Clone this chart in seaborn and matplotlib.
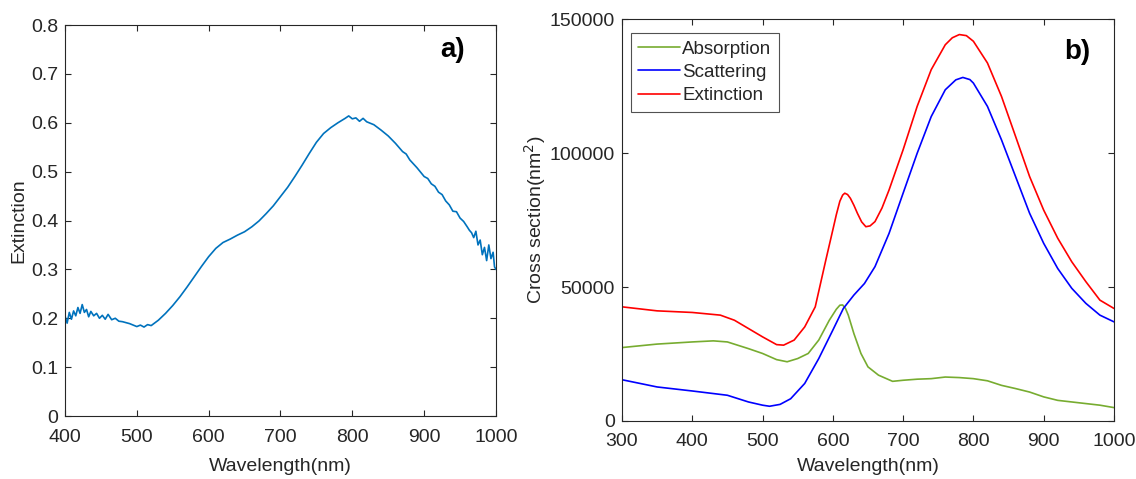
import numpy as np
import pandas as pd
import matplotlib
matplotlib.use("Agg")
import matplotlib.pyplot as plt
import seaborn as sns

# ---- Panel a) measured extinction ----
wl_a = [400, 403, 406, 409, 412, 415, 418, 421, 424, 427, 430, 433, 436, 440, 444, 448, 452, 456, 460, 465,
        470, 475, 480, 490, 500, 505, 510, 515, 520, 530, 540, 550, 560, 570, 580, 590, 600, 610, 620, 630,
        640, 650, 660, 670, 680, 690, 700, 710, 720, 730, 740, 750, 760, 770, 780, 790, 795, 800, 805, 810,
        815, 820, 830, 840, 850, 860, 870, 875, 880, 890, 900, 905, 910, 915, 920, 925, 930, 935, 940, 945,
        950, 955, 960, 963, 966, 969, 972, 975, 978, 981, 984, 987, 990, 993, 996, 998, 1000]
ext_a = [0.205, 0.190, 0.212, 0.198, 0.215, 0.205, 0.222, 0.210, 0.228, 0.212, 0.218, 0.203, 0.214, 0.205,
         0.210, 0.200, 0.206, 0.198, 0.208, 0.197, 0.200, 0.194, 0.193, 0.189, 0.183, 0.186, 0.182, 0.187,
         0.185, 0.196, 0.210, 0.226, 0.244, 0.264, 0.285, 0.306, 0.326, 0.343, 0.355, 0.362, 0.370, 0.377,
         0.387, 0.399, 0.414, 0.430, 0.449, 0.468, 0.490, 0.513, 0.537, 0.560, 0.578, 0.590, 0.600, 0.609,
         0.614, 0.608, 0.610, 0.603, 0.609, 0.602, 0.596, 0.585, 0.573, 0.558, 0.541, 0.536, 0.524, 0.508,
         0.490, 0.486, 0.475, 0.470, 0.458, 0.453, 0.440, 0.432, 0.419, 0.418, 0.405, 0.398, 0.387, 0.380,
         0.375, 0.365, 0.378, 0.350, 0.360, 0.330, 0.345, 0.318, 0.350, 0.322, 0.335, 0.305, 0.300]

# ---- Panel b) simulated cross sections ----
wl_ext = [300, 350, 400, 440, 460, 480, 500, 520, 530, 545, 560, 575, 590, 600, 605, 610, 614, 617, 621, 625,
          630, 635, 641, 647, 653, 660, 670, 680, 700, 720, 740, 760, 770, 780, 790, 800, 820, 840, 860, 880,
          900, 920, 940, 960, 980, 1000]
extinction = [42600, 41100, 40500, 39500, 37600, 34500, 31400, 28500, 28300, 30200, 35100, 42600, 60000, 71300,
              77000, 82000, 84300, 85000, 84500, 83100, 80500, 77500, 74300, 72500, 72800, 74400, 79500, 86200,
              101200, 117400, 131100, 140400, 143000, 144200, 143800, 141700, 133600, 121100, 106200, 91200,
              78700, 68200, 59400, 52000, 45100, 42000]

wl_sca = [300, 350, 400, 450, 480, 500, 510, 525, 540, 560, 580, 600, 615, 630, 645, 660, 680, 700, 720, 740,
          760, 775, 785, 795, 800, 820, 840, 860, 880, 900, 920, 940, 960, 980, 1000]
scattering = [15400, 12700, 11200, 9600, 7100, 5900, 5500, 6200, 8300, 14000, 23300, 33900, 42000, 47000, 51300,
              57600, 70000, 85000, 99900, 113600, 123600, 127300, 128200, 127400, 126100, 117400, 104900, 91200,
              77500, 66300, 56900, 49500, 43900, 39500, 37000]

wl_abs = [300, 350, 400, 430, 450, 480, 500, 520, 535, 550, 565, 580, 595, 605, 610, 614, 618, 622, 630, 640,
          650, 665, 685, 700, 720, 740, 760, 780, 800, 820, 840, 860, 880, 900, 920, 940, 960, 980, 1000]
absorption = [27400, 28700, 29500, 29900, 29500, 27000, 25200, 22900, 22100, 23300, 25200, 30200, 37600, 41700,
              43200, 43300, 42000, 39500, 32600, 25200, 20200, 17100, 14800, 15200, 15600, 15800, 16400, 16200,
              15800, 15000, 13300, 12100, 10800, 9000, 7700, 7100, 6500, 5900, 5000]

sns.set_style("ticks")
plt.rcParams['font.family'] = ['Liberation Sans', 'DejaVu Sans']
plt.rcParams['xtick.direction'] = 'in'
plt.rcParams['ytick.direction'] = 'in'
txt = '#262626'
edge = '#262626'
fs = 14

fig = plt.figure(figsize=(11.36, 4.79), dpi=100)
ax1 = fig.add_axes([0.0572, 0.1315, 0.3794, 0.8163])
ax2 = fig.add_axes([0.5475, 0.1211, 0.4331, 0.8392])

df_a = pd.DataFrame({"wl": wl_a, "ext": ext_a})
sns.lineplot(data=df_a, x="wl", y="ext", ax=ax1, color="#0072BD", linewidth=1.2)
ax1.set_xlim(400, 1000)
ax1.set_ylim(0, 0.8)
ax1.set_xticks(np.arange(400, 1001, 100))
ax1.set_yticks(np.arange(0, 0.81, 0.1))
ax1.set_yticklabels(["0", "0.1", "0.2", "0.3", "0.4", "0.5", "0.6", "0.7", "0.8"])
ax1.set_xlabel("Wavelength(nm)", fontsize=fs, color=txt)
ax1.set_ylabel("Extinction", fontsize=fs, color=txt)
ax1.xaxis.set_label_coords(0.5, -0.108)
ax1.yaxis.set_label_coords(-0.087, 0.5)
ax1.text(0.90, 0.936, "a)", transform=ax1.transAxes, fontsize=20, fontweight='bold', ha='center', va='center',
         color='black')

df_b = pd.concat([
    pd.DataFrame({"wl": wl_abs, "val": absorption, "kind": "Absorption"}),
    pd.DataFrame({"wl": wl_sca, "val": scattering, "kind": "Scattering"}),
    pd.DataFrame({"wl": wl_ext, "val": extinction, "kind": "Extinction"}),
])
sns.lineplot(data=df_b, x="wl", y="val", hue="kind", ax=ax2, linewidth=1.2,
             palette={"Absorption": "#77AC30", "Scattering": "#0000FF", "Extinction": "#FF0000"})
ax2.set_xlim(300, 1000)
ax2.set_ylim(0, 150000)
ax2.set_xticks(np.arange(300, 1001, 100))
ax2.set_yticks([0, 50000, 100000, 150000])
ax2.set_yticklabels(["0", "50000", "100000", "150000"])
ax2.set_xlabel("Wavelength(nm)", fontsize=fs, color=txt)
ax2.set_ylabel("Cross section(nm$^2$)", fontsize=fs, color=txt)
ax2.xaxis.set_label_coords(0.5, -0.093)
ax2.yaxis.set_label_coords(-0.150, 0.5)
ax2.text(0.925, 0.918, "b)", transform=ax2.transAxes, fontsize=20, fontweight='bold', ha='center', va='center',
         color='black')
leg = ax2.legend(loc='upper left', bbox_to_anchor=(0.018, 0.965), borderaxespad=0.0, fontsize=13.5,
                 frameon=True, fancybox=False, handlelength=2.2, handletextpad=0.15, borderpad=0.4,
                 labelspacing=0.33)
leg.get_frame().set_edgecolor('#262626')
leg.get_frame().set_linewidth(0.8)
for t in leg.get_texts():
    t.set_color(txt)

for ax in (ax1, ax2):
    ax.tick_params(which='both', top=True, right=True, labelsize=fs, colors=txt, length=4, width=0.8)
    ax.tick_params(axis='x', pad=9)
    ax.tick_params(axis='y', pad=5)
    for s in ax.spines.values():
        s.set_visible(True)
        s.set_color(edge)
        s.set_linewidth(0.8)

fig.savefig("out.png", dpi=100)
